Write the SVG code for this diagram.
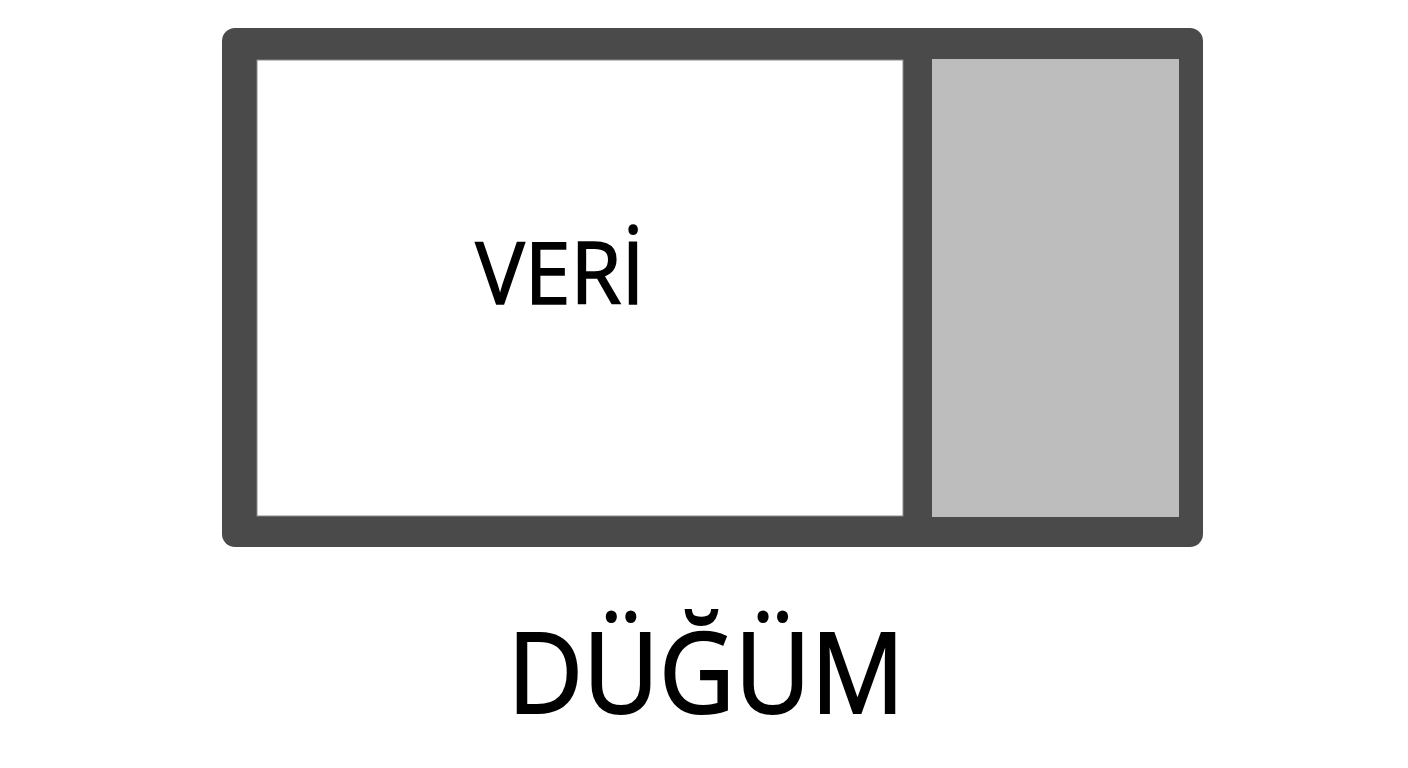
<svg xmlns="http://www.w3.org/2000/svg" width="1408" height="768" viewBox="0 0 1408 768">
<style>
.lbl{font-family:"Open Sans","Noto Sans","Liberation Sans",sans-serif;fill:#000;stroke:#000;text-anchor:middle;font-weight:400}
</style>
<rect x="0" y="0" width="1408" height="768" fill="#ffffff"/>
<g id="node">
<rect x="222" y="28" width="981" height="519" rx="13" ry="13" fill="#4a4a4a"/>
<g id="data">
<rect x="257" y="60" width="646" height="456" fill="#ffffff" stroke="#8a8a8a" stroke-width="1"/>
<text class="lbl" x="560" y="304" font-size="86" stroke-width="1.6" textLength="169" lengthAdjust="spacingAndGlyphs">VERİ</text>
</g>
<g id="pointer">
<rect x="932" y="59" width="247" height="458" fill="#bdbdbd"/>
</g>
</g>
<g id="connectors"></g>
<g id="caption">
<text class="lbl" x="706" y="713" font-size="112" stroke-width="2" textLength="397" lengthAdjust="spacingAndGlyphs">DÜĞÜM</text>
</g>
</svg>
